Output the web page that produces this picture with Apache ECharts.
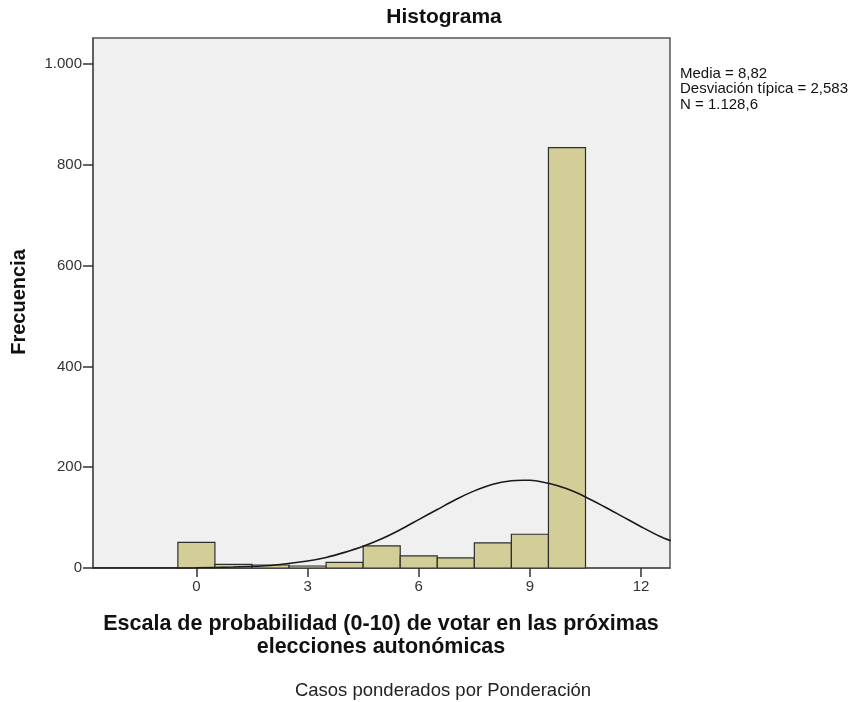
<!DOCTYPE html>
<html>
<head>
<meta charset="utf-8">
<script src="https://cdn.jsdelivr.net/npm/echarts@6/dist/echarts.min.js"></script>
<style>html,body{margin:0;padding:0;background:#fff}#c{width:857px;height:702px}</style>
</head>
<body>
<div id="c"></div>
<script>
// Histogram bins (centre of bin) and frequencies
const binCenters = [0, 1, 2, 3, 4, 5, 6, 7, 8, 9, 10];
const frequencies = [51, 7, 6, 4, 11, 44, 24, 20, 50, 67, 834];
// Normal curve points
const curveX = [-2.8, -1, 0, 1, 2, 3, 3.5, 4, 4.5, 5, 5.5, 6, 6.5, 7, 7.5, 8, 8.5, 8.82, 9, 9.5, 10, 10.5, 11, 11.5, 12, 12.5, 12.8];
const curveY = [0, 0, 0.5, 2, 5, 14, 21, 31, 43, 58, 76, 96, 116, 136, 153, 166, 173, 174, 174, 168, 157, 141, 122, 102, 82, 63, 54];
const xTicks = [0, 3, 6, 9, 12];
const yTicks = [0, 200, 400, 600, 800, 1000];
const statsLines = ['Media = 8,82', 'Desviación típica = 2,583', 'N = 1.128,6'];

const FONT = "'Liberation Sans', Arial, sans-serif";
const chart = echarts.init(document.getElementById('c'), null, {renderer: 'canvas'});

const barData = binCenters.map((c, i) => [c, frequencies[i]]);
const curveData = curveX.map((x, i) => [x, curveY[i]]);

function fmtThousands(v) {
  return String(v).replace(/\B(?=(\d{3})+(?!\d))/g, '.');
}

chart.setOption({
  animation: false,
  backgroundColor: '#ffffff',
  grid: {left: 93, right: 187, top: 38, bottom: 134, show: true, backgroundColor: '#f0f0f0', borderColor: '#555555', borderWidth: 1.5},
  xAxis: {
    type: 'value', min: -2.79, max: 12.78,
    splitLine: {show: false},
    axisLine: {show: true, onZero: false, lineStyle: {color: '#555555', width: 1.5}},
    axisTick: {show: true, customValues: xTicks, length: 9, lineStyle: {color: '#333333', width: 1.5}},
    axisLabel: {customValues: xTicks, color: '#333333', fontSize: 15, fontFamily: FONT, margin: 11}
  },
  yAxis: {
    type: 'value', min: 0, max: 1051.5,
    splitLine: {show: false},
    axisLine: {show: true, onZero: false, lineStyle: {color: '#555555', width: 1.5}},
    axisTick: {show: true, customValues: yTicks, length: 10, lineStyle: {color: '#333333', width: 1.5}},
    axisLabel: {customValues: yTicks, color: '#333333', fontSize: 15, fontFamily: FONT, margin: 11, formatter: v => fmtThousands(v)}
  },
  series: [
    {
      type: 'custom',
      data: barData,
      renderItem: function (params, api) {
        const x = api.value(0), y = api.value(1);
        const p0 = api.coord([x - 0.5, 0]);
        const p1 = api.coord([x + 0.5, y]);
        return {
          type: 'rect',
          shape: {x: p0[0], y: p1[1], width: p1[0] - p0[0], height: p0[1] - p1[1]},
          style: {fill: '#d3ce97', stroke: '#2e2e2e', lineWidth: 1.2}
        };
      },
      z: 2
    },
    {
      type: 'line',
      data: curveData,
      smooth: 0.3,
      showSymbol: false,
      lineStyle: {color: '#1a1a1a', width: 1.6},
      z: 3
    }
  ],
  graphic: [
    {type: 'text', x: 444, y: 17, style: {text: 'Histograma', font: 'bold 21px ' + FONT, fill: '#111', align: 'center', verticalAlign: 'middle'}},
    {type: 'text', x: 680, y: 66, style: {text: statsLines.join('\n'), font: '15px ' + FONT, fill: '#111', lineHeight: 15.5}},
    {type: 'text', x: 19, y: 302, rotation: Math.PI / 2, style: {text: 'Frecuencia', font: 'bold 20px ' + FONT, fill: '#111', align: 'center', verticalAlign: 'middle'}},
    {type: 'text', x: 381, y: 613, style: {text: 'Escala de probabilidad (0-10) de votar en las próximas\nelecciones autonómicas', font: 'bold 21.5px ' + FONT, fill: '#111', align: 'center', lineHeight: 23}},
    {type: 'text', x: 443, y: 681, style: {text: 'Casos ponderados por Ponderación', font: '18.5px ' + FONT, fill: '#222', align: 'center'}}
  ]
});
</script>
</body>
</html>
